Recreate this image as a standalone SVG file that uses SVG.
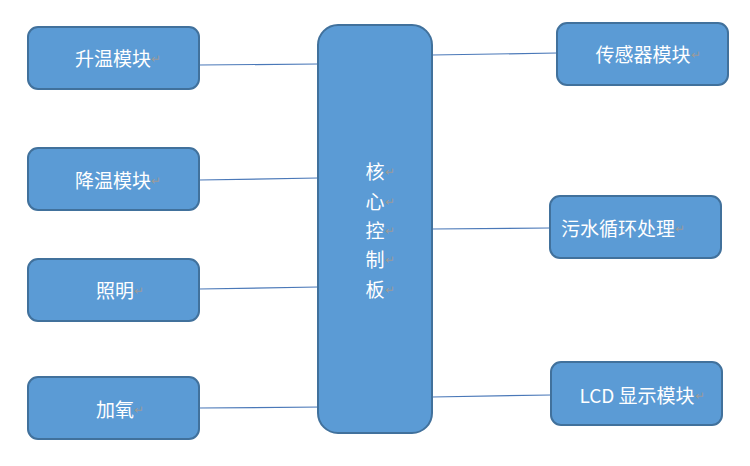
<svg xmlns="http://www.w3.org/2000/svg" width="750" height="466" viewBox="0 0 750 466">
<style>
.box{fill:#5b9bd5;stroke:#41719c;stroke-width:2}
.lbl{font-family:"Noto Sans CJK SC","Liberation Sans",sans-serif;font-size:19px;fill:#ffffff;dominant-baseline:central}
.pm{font-size:12px;fill:#9a9a9a}
.ln{stroke:#4a78b8;stroke-width:1.2;fill:none}
</style>
<rect width="750" height="466" fill="#ffffff"/>
<g id="connectors">
<line class="ln" x1="199" y1="65" x2="318" y2="64"/>
<line class="ln" x1="199" y1="180" x2="318" y2="178"/>
<line class="ln" x1="199" y1="289" x2="318" y2="287"/>
<line class="ln" x1="199" y1="408" x2="323" y2="407"/>
<line class="ln" x1="432" y1="55" x2="557" y2="53"/>
<line class="ln" x1="432" y1="229" x2="550" y2="228"/>
<line class="ln" x1="432" y1="397" x2="551" y2="395"/>
</g>
<g id="core">
<rect class="box" x="318" y="25" width="114" height="408" rx="20"/>
<text class="lbl" x="380" y="170" text-anchor="middle">核<tspan class="pm">↵</tspan></text>
<text class="lbl" x="380" y="200" text-anchor="middle">心<tspan class="pm">↵</tspan></text>
<text class="lbl" x="380" y="229" text-anchor="middle">控<tspan class="pm">↵</tspan></text>
<text class="lbl" x="380" y="258" text-anchor="middle">制<tspan class="pm">↵</tspan></text>
<text class="lbl" x="380" y="288" text-anchor="middle">板<tspan class="pm">↵</tspan></text>
</g>
<g id="heat">
<rect class="box" x="28" y="27" width="171" height="62" rx="10"/>
<text class="lbl" x="118" y="57" text-anchor="middle">升温模块<tspan class="pm">↵</tspan></text>
</g>
<g id="cool">
<rect class="box" x="28" y="148" width="171" height="62" rx="10"/>
<text class="lbl" x="118" y="179" text-anchor="middle">降温模块<tspan class="pm">↵</tspan></text>
</g>
<g id="light">
<rect class="box" x="28" y="259" width="171" height="62" rx="10"/>
<text class="lbl" x="120" y="289" text-anchor="middle">照明<tspan class="pm">↵</tspan></text>
</g>
<g id="oxygen">
<rect class="box" x="28" y="377" width="171" height="62" rx="10"/>
<text class="lbl" x="120" y="408" text-anchor="middle">加氧<tspan class="pm">↵</tspan></text>
</g>
<g id="sensor">
<rect class="box" x="557" y="23" width="171" height="62" rx="10"/>
<text class="lbl" x="648" y="53" text-anchor="middle">传感器模块<tspan class="pm">↵</tspan></text>
</g>
<g id="water">
<rect class="box" x="550" y="196" width="171" height="62" rx="10"/>
<text class="lbl" x="623" y="227" text-anchor="middle">污水循环处理<tspan class="pm">↵</tspan></text>
</g>
<g id="lcd">
<rect class="box" x="551" y="362" width="171" height="63" rx="10"/>
<text class="lbl" x="642" y="394" text-anchor="middle">LCD 显示模块<tspan class="pm">↵</tspan></text>
</g>
</svg>
